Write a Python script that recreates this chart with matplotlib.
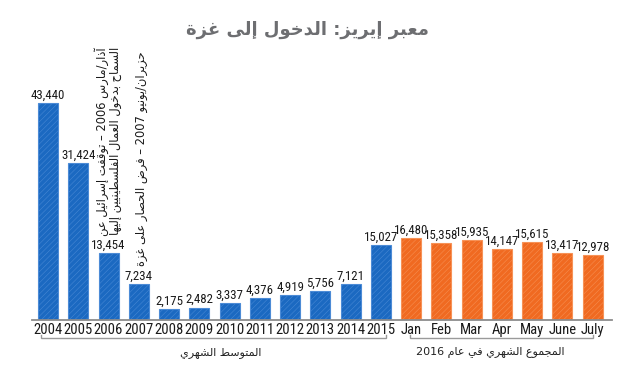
import matplotlib
matplotlib.use("Agg")
import matplotlib.pyplot as plt
from matplotlib import font_manager

# ---------------- data ----------------
years = ["2004", "2005", "2006", "2007", "2008", "2009", "2010", "2011",
         "2012", "2013", "2014", "2015"]
year_values = [43440, 31424, 13454, 7234, 2175, 2482, 3337, 4376,
               4919, 5756, 7121, 15027]
months = ["Jan", "Feb", "Mar", "Apr", "May", "June", "July"]
month_values = [16480, 15358, 15935, 14147, 15615, 13417, 12978]

title = "معبر إيريز: الدخول إلى غزة"
note_2006 = ["آذار/مارس 2006 – توقفت إسرائيل عن",
             "السماح بدخول العمال الفلسطينيين إليها"]
note_2007 = "حزيران/يونيو 2007 – فرض الحصار على غزة"
group1_label = "المتوسط الشهري"
group2_label = "المجموع الشهري في عام 2016"

# ---------------- minimal Arabic shaping + bidi ----------------
_seq = [('ء', 0xFE80, 1), ('آ', 0xFE81, 2), ('أ', 0xFE83, 2), ('ؤ', 0xFE85, 2),
        ('إ', 0xFE87, 2), ('ئ', 0xFE89, 4), ('ا', 0xFE8D, 2), ('ب', 0xFE8F, 4),
        ('ة', 0xFE93, 2), ('ت', 0xFE95, 4), ('ث', 0xFE99, 4), ('ج', 0xFE9D, 4),
        ('ح', 0xFEA1, 4), ('خ', 0xFEA5, 4), ('د', 0xFEA9, 2), ('ذ', 0xFEAB, 2),
        ('ر', 0xFEAD, 2), ('ز', 0xFEAF, 2), ('س', 0xFEB1, 4), ('ش', 0xFEB5, 4),
        ('ص', 0xFEB9, 4), ('ض', 0xFEBD, 4), ('ط', 0xFEC1, 4), ('ظ', 0xFEC5, 4),
        ('ع', 0xFEC9, 4), ('غ', 0xFECD, 4), ('ف', 0xFED1, 4), ('ق', 0xFED5, 4),
        ('ك', 0xFED9, 4), ('ل', 0xFEDD, 4), ('م', 0xFEE1, 4), ('ن', 0xFEE5, 4),
        ('ه', 0xFEE9, 4), ('و', 0xFEED, 2), ('ى', 0xFEEF, 2), ('ي', 0xFEF1, 4)]
FORMS = {c: [chr(s + k) for k in range(n)] for c, s, n in _seq}
LAMALEF = {'آ': 0xFEF5, 'أ': 0xFEF7, 'إ': 0xFEF9, 'ا': 0xFEFB}


def _dual(c):
    return c in FORMS and len(FORMS[c]) == 4


def _joins(c):
    return c in FORMS and len(FORMS[c]) > 1


def shape(text):
    out = []
    i = 0
    ch = list(text)
    while i < len(ch):
        c = ch[i]
        if c not in FORMS:
            out.append(c)
            i += 1
            continue
        prev = ch[i - 1] if i > 0 else None
        jp = prev is not None and _dual(prev) and _joins(c)
        if c == 'ل' and i + 1 < len(ch) and ch[i + 1] in LAMALEF:
            out.append(chr(LAMALEF[ch[i + 1]] + (1 if jp else 0)))
            i += 2
            continue
        nxt = ch[i + 1] if i + 1 < len(ch) else None
        jn = _dual(c) and nxt is not None and _joins(nxt)
        f = FORMS[c]
        if jp and jn:
            g = f[3]
        elif jp:
            g = f[1]
        elif jn:
            g = f[2]
        else:
            g = f[0]
        out.append(g)
        i += 1
    return ''.join(out)


def visual(text):
    s = shape(text)
    runs = []
    for c in s:
        ltr = c.isascii() and c.isalnum()
        if runs and runs[-1][0] == ltr:
            runs[-1][1].append(c)
        else:
            runs.append([ltr, [c]])
    parts = []
    for ltr, cs in reversed(runs):
        parts.append(''.join(cs) if ltr else ''.join(reversed(cs)))
    return ''.join(parts)


# ---------------- fonts ----------------
_installed = {f.name for f in font_manager.fontManager.ttflist}
NUM_FONT = [f for f in ['Roboto Condensed', 'Liberation Sans Narrow', 'Roboto',
                        'DejaVu Sans'] if f in _installed][:2] or ['DejaVu Sans']
_condensed = NUM_FONT[0] in ('Roboto Condensed', 'Liberation Sans Narrow')
VAL_FS = 9.3 if _condensed else 8.6
TICK_FS = 10.5 if _condensed else 9.2
AR_FONT = ['DejaVu Sans']

BLUE, BLUE_EDGE = '#1b69c1', '#4c8bd6'
ORANGE, ORANGE_EDGE = '#f06a21', '#f79257'

plt.rcParams['hatch.linewidth'] = 0.35

fig = plt.figure(figsize=(6.28, 3.68), dpi=100)
W, H = 628, 368
px_left, px_right, px_base, px_top = 32, 612, 320, 40
ax = fig.add_axes([px_left / W, (H - px_base) / H,
                   (px_right - px_left) / W, (px_base - px_top) / H])

step = 30.26
labels = years + months
values = year_values + month_values
colors = [BLUE] * len(years) + [ORANGE] * len(months)
edges = [BLUE_EDGE] * len(years) + [ORANGE_EDGE] * len(months)
xs = list(range(len(labels)))

units_per_px = 200.2
ax.set_xlim((px_left - 48) / step, (px_right - 48) / step)
ax.set_ylim(0, (px_base - px_top) * units_per_px)

ax.bar(xs, values, width=0.66, color=colors, edgecolor=edges,
       linewidth=0.8, hatch='//////', zorder=2)

for x, v in zip(xs, values):
    ax.annotate(f"{v:,}", (x, v), xytext=(0, 1.0), textcoords='offset points',
                ha='center', va='bottom', fontsize=VAL_FS, family=NUM_FONT,
                color='#1a1a1a')

for s in ['top', 'right', 'left']:
    ax.spines[s].set_visible(False)
ax.spines['bottom'].set_color('#8c8c8c')
ax.spines['bottom'].set_linewidth(1.3)
ax.set_yticks([])
ax.set_xticks(xs)
ax.set_xticklabels(labels, fontsize=TICK_FS, family=NUM_FONT, color='#1a1a1a')
ax.tick_params(axis='x', length=0, pad=2.5)


# brackets under the groups
def px2y(py):
    return -(py - px_base) * units_per_px


def bracket(x0, x1):
    yb, yt = px2y(338), px2y(334.5)
    ax.plot([x0, x0, x1, x1], [yt, yb, yb, yt], color='#9a9a9a', lw=1.0,
            clip_on=False, solid_joinstyle='miter')


bracket(-0.23, 11.18)
bracket(11.95, 18.02)

fig.text(221 / W, 1 - 353 / H, visual(group1_label), ha='center', va='center',
         fontsize=8, family=AR_FONT, color='#222222')
fig.text(490 / W, 1 - 353 / H, visual(group2_label), ha='center', va='center',
         fontsize=8, family=AR_FONT, color='#222222')

# vertical notes
fig.text(108 / W, 1 - 47 / H, '\n'.join(visual(l) for l in note_2006),
         rotation=90, ha='center', va='top', multialignment='right',
         fontsize=8.3, family=AR_FONT, color='#1a1a1a', linespacing=1.0)
fig.text(141 / W, 1 - 51 / H, visual(note_2007), rotation=90, ha='center',
         va='top', fontsize=8.3, family=AR_FONT, color='#1a1a1a')

# title
fig.text(307 / W, 1 - 30 / H, visual(title), ha='center', va='center',
         fontsize=13, fontweight='bold', family=AR_FONT, color='#6d6e71')

fig.savefig('out.png', dpi=100)
